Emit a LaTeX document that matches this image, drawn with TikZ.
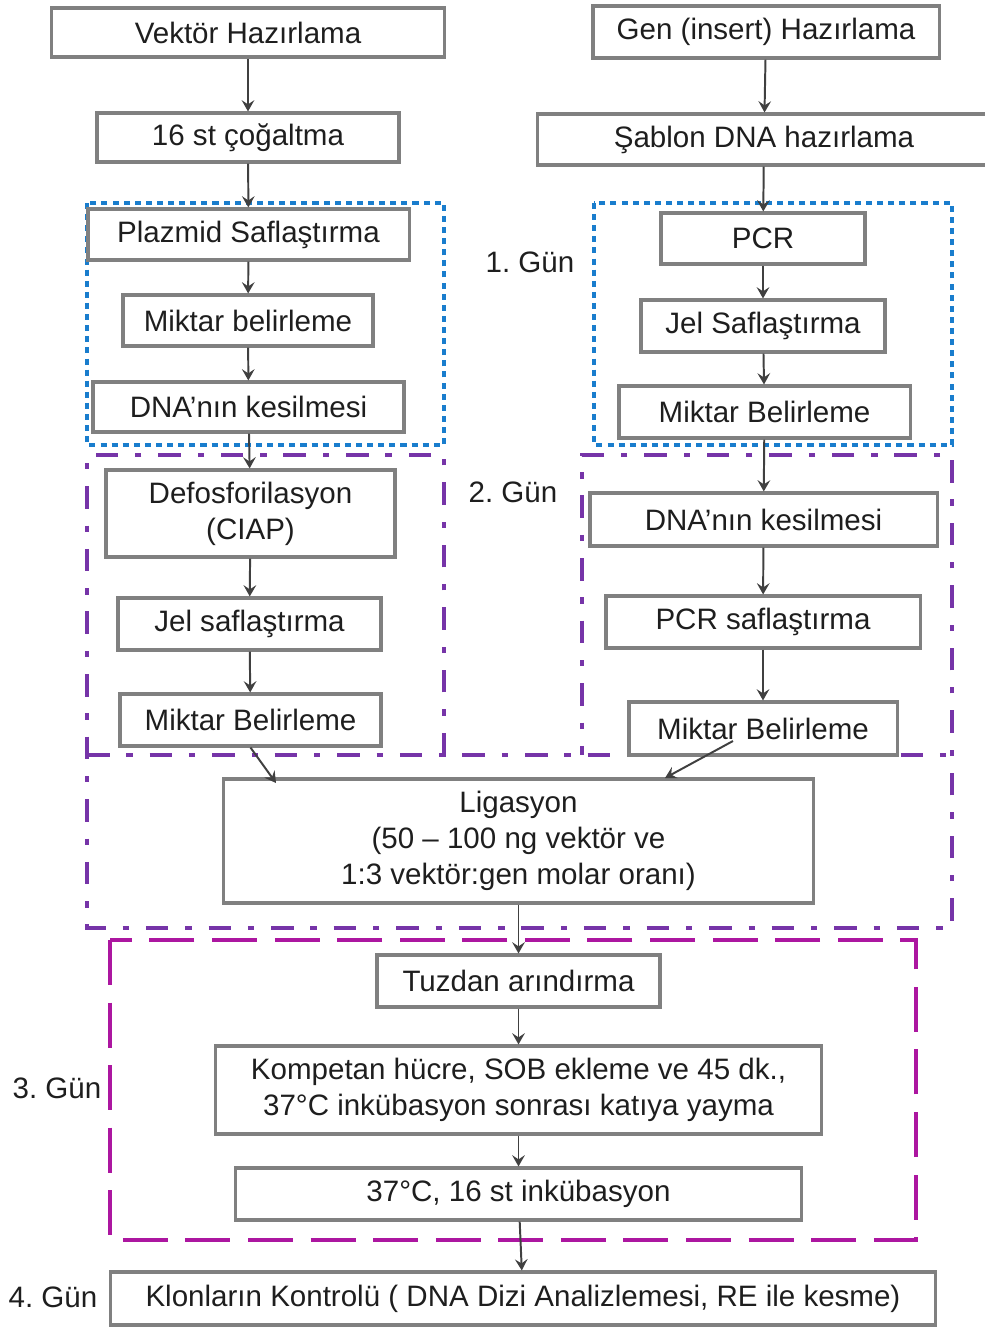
\documentclass[tikz,border=0pt]{standalone}
\usepackage{fontspec}
\setmainfont{Liberation Sans}
\usetikzlibrary{arrows.meta}
\frenchspacing

\definecolor{gunmavi}{RGB}{25,125,205}
\definecolor{gunmor}{RGB}{118,52,168}
\definecolor{gunpembe}{RGB}{172,22,160}
\definecolor{kenar}{RGB}{128,128,128}
\definecolor{yazi}{RGB}{30,30,30}

\tikzset{
	kutu/.style={draw=kenar, line width=2.2pt, text=yazi, align=center, inner sep=0pt},
	ok/.style={-{Stealth[length=8pt,width=9pt,inset=3pt]}, line width=1.4pt, draw=black!75},
	gun/.style={text=yazi},
	birgun/.style={draw=gunmavi, line width=2.8pt, dash pattern=on 4.3pt off 3.6pt},
	ikigun/.style={draw=gunmor, line width=2.8pt, dash pattern=on 16pt off 12pt on 4.5pt off 12pt},
	ucgun/.style={draw=gunpembe, line width=2.8pt, dash pattern=on 32pt off 12.5pt}
}

\begin{document}
\begin{tikzpicture}[x=0.025cm, y=-0.025cm, font=\fontsize{21}{25.5}\selectfont]
	\useasboundingbox (0,0) rectangle (985,1327);
	
	% gun bolgeleri
	\draw[birgun] (87,203) rectangle (444,445);
	\draw[birgun] (594,203) rectangle (952,445);
	\draw[ikigun] (444,755) -- (444,455) -- (87,455) -- (87,928) -- (952,928) -- (952,455) -- (582,455) -- (582,755);
	\draw[ikigun] (87,755) -- (952,755);
	\draw[ucgun] (110,940) rectangle (916,1240);
	
	% vektor tarafi
	\node[kutu, minimum width=9.8cm, minimum height=1.225cm] (vektor) at (248,32.5) {Vektör Hazırlama};
	\node[kutu, minimum width=7.55cm, minimum height=1.225cm] (cogaltma) at (248,137.5) {16 st çoğaltma};
	\node[kutu, minimum width=8.025cm, minimum height=1.275cm] (plazmid) at (248.5,234.5) {Plazmid Saflaştırma};
	\node[kutu, minimum width=6.25cm, minimum height=1.275cm] (miktarA) at (248,320.5) {Miktar belirleme};
	\node[kutu, minimum width=7.775cm, minimum height=1.25cm] (kesimA) at (248.5,407) {DNA’nın kesilmesi};
	\node[kutu, minimum width=7.225cm, minimum height=2.175cm] (defosf) at (250.5,513.5) {Defosforilasyon\\(CIAP)};
	\node[kutu, minimum width=6.575cm, minimum height=1.3cm] (jelA) at (249.5,624) {Jel saflaştırma};
	\node[kutu, minimum width=6.525cm, minimum height=1.3cm] (miktarB) at (250.5,720) {Miktar Belirleme};
	
	% gen tarafi
	\node[kutu, minimum width=8.65cm, minimum height=1.3cm] (gen) at (766,32) {Gen (insert) Hazırlama};
	\node[kutu, minimum width=11.3cm, minimum height=1.275cm] (sablon) at (764,139.5) {Şablon DNA hazırlama};
	\node[kutu, minimum width=5.1cm, minimum height=1.275cm] (pcr) at (763,238.5) {PCR};
	\node[kutu, minimum width=6.1cm, minimum height=1.3cm] (jelB) at (763,326) {Jel Saflaştırma};
	\node[kutu, minimum width=7.275cm, minimum height=1.3cm] (miktarC) at (764.5,412) {Miktar Belirleme};
	\node[kutu, minimum width=8.675cm, minimum height=1.325cm] (kesimB) at (763.5,519.5) {DNA’nın kesilmesi};
	\node[kutu, minimum width=7.85cm, minimum height=1.3cm] (pcrsaf) at (763,622) {PCR saflaştırma};
	\node[kutu, minimum width=6.7cm, minimum height=1.325cm] (miktarD) at (763,728.5) {Miktar Belirleme};
	
	% ortak adimlar
	\node[kutu, minimum width=14.725cm, minimum height=3.1cm] (ligasyon) at (518.5,841) {Ligasyon\\(50 – 100 ng vektör ve\\1:3 vektör:gen molar oranı)};
	\node[kutu, minimum width=7.075cm, minimum height=1.3cm] (tuzdan) at (518.5,981) {Tuzdan arındırma};
	\node[kutu, minimum width=15.125cm, minimum height=2.2cm] (kompetan) at (518.5,1090) {Kompetan hücre, SOB ekleme ve 45 dk.,\\37°C inkübasyon sonrası katıya yayma};
	\node[kutu, minimum width=14.125cm, minimum height=1.3cm] (inkubasyon) at (518.5,1194) {37°C, 16 st inkübasyon};
	\node[kutu, minimum width=20.6cm, minimum height=1.325cm] (kontrol) at (523,1298.5) {Klonların Kontrolü ( DNA Dizi Analizlemesi, RE ile kesme)};
	
	% gunler
	\node[gun] (gun1) at (530,262) {1. Gün};
	\node[gun] (gun2) at (513,492) {2. Gün};
	\node[gun] (gun3) at (57,1088) {3. Gün};
	\node[gun] (gun4) at (53,1297) {4. Gün};
	
	% oklar
	\draw[ok] (vektor) -- (cogaltma);
	\draw[ok] (cogaltma) -- (plazmid);
	\draw[ok] (plazmid) -- (miktarA);
	\draw[ok] (miktarA) -- (kesimA);
	\draw[ok] (kesimA) -- (defosf);
	\draw[ok] (defosf) -- (jelA);
	\draw[ok] (jelA) -- (miktarB);
	
	\draw[ok] (gen) -- (sablon);
	\draw[ok] (sablon) -- (pcr);
	\draw[ok] (pcr) -- (jelB);
	\draw[ok] (jelB) -- (miktarC);
	\draw[ok] (miktarC) -- (kesimB);
	\draw[ok] (kesimB) -- (pcrsaf);
	\draw[ok] (pcrsaf) -- (miktarD);
	
	\coordinate (ligsol) at (276,783);
	\coordinate (miktarDic) at (733,741);
	\coordinate (ligsag) at (665,778);
	\draw[ok] (miktarB.south) -- (ligsol);
	\draw[ok] (miktarDic) -- (ligsag);
	
	\draw[ok] (ligasyon) -- (tuzdan);
	\draw[ok] (tuzdan) -- (kompetan);
	\draw[ok] (kompetan) -- (inkubasyon);
	\draw[ok] (inkubasyon) -- (kontrol);
\end{tikzpicture}
\end{document}
